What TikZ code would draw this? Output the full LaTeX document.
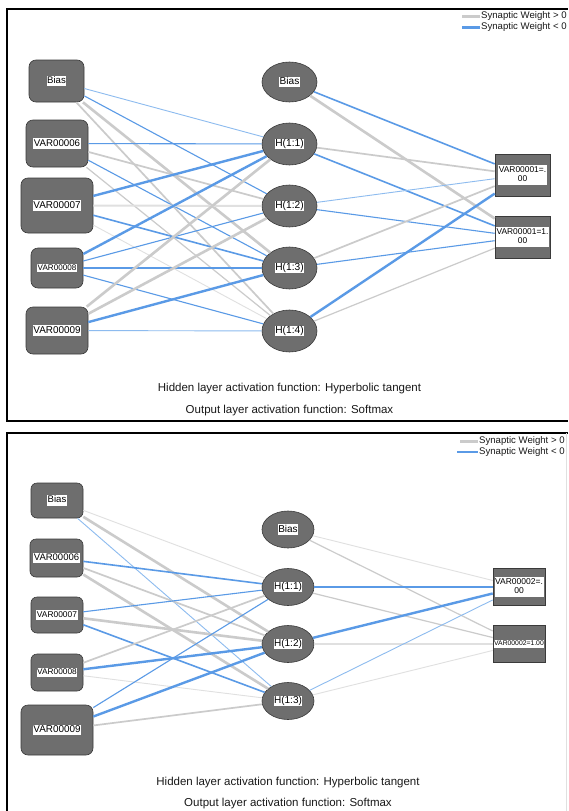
\documentclass[tikz,border=0pt]{standalone}
\usepackage{fontspec}
\setmainfont{Liberation Sans}
\usetikzlibrary{shapes.geometric}
\definecolor{nodefill}{HTML}{6E6E6E}
\definecolor{nodedraw}{HTML}{3A3A3A}
\definecolor{wpos}{HTML}{CBCBCB}
\definecolor{wposl}{HTML}{E0E0E0}
\definecolor{wneg}{HTML}{5A9AE6}
\definecolor{wnegl}{HTML}{8DBBEF}
\newcommand{\lab}[2]{{\fontsize{#1}{#1}\selectfont\setlength{\fboxsep}{0.6pt}\colorbox{white}{\vphantom{(}#2}}}
\newcommand{\labtwo}[4]{{\fontsize{#1}{#2}\selectfont\setlength{\fboxsep}{0.6pt}\colorbox{white}{\begin{tabular}{@{}c@{}}#3\\#4\end{tabular}}}}
\tikzset{
  inp/.style={draw=nodedraw, fill=nodefill, rectangle, rounded corners=6pt, line width=0.6pt, inner sep=0pt},
  hid/.style={draw=nodedraw, fill=nodefill, ellipse, line width=0.6pt, inner sep=0pt},
  outp/.style={draw=nodedraw, fill=nodefill, rectangle, line width=0.6pt, inner sep=0pt},
  g1/.style={draw=wposl, line width=0.9pt},
  g2/.style={draw=wpos, line width=1.2pt},
  g3/.style={draw=wpos, line width=1.7pt},
  g3l/.style={draw=wposl, line width=2pt},
  g4/.style={draw=wpos, line width=2.6pt},
  b1/.style={draw=wnegl, line width=0.9pt},
  b2/.style={draw=wneg, line width=1.1pt},
  b3/.style={draw=wneg, line width=1.6pt},
  b4/.style={draw=wneg, line width=2.4pt},
  capt/.style={font=\fontsize{11.5}{12}\selectfont, text=black!90, inner sep=0pt},
  legt/.style={font=\fontsize{9.6}{10}\selectfont, text=black!90, inner sep=0pt, anchor=west},
  frame/.style={draw=black, line width=1.5pt},
}
\begin{document}
\begin{tikzpicture}[x=1pt, y=-1pt]
\fill[white] (0,0) rectangle (568,811);
\useasboundingbox (0,0) rectangle (568,811);

% ---------- frames ----------
\draw[frame, line width=1.2pt] (7,9) -- (568,9);
\draw[frame, line width=2pt] (7,8.4) -- (7,421.6);
\draw[frame] (7,421) -- (568,421);
\draw[frame] (7,433) -- (568,433);
\draw[frame, line width=2pt] (7,432.4) -- (7,811);
\draw[draw=black!12, line width=1pt] (566.5,433) -- (566.5,811);

% ---------- legends ----------
\coordinate (tl1a) at (462,16.5); \coordinate (tl1b) at (480,16.5);
\coordinate (tl2a) at (462,27.5); \coordinate (tl2b) at (480,27.5);
\draw[wpos, line width=2.5pt] (tl1a) -- (tl1b);
\draw[wneg, line width=2.5pt] (tl2a) -- (tl2b);
\node[legt] (tlt1) at (481,16.5) {Synaptic Weight > 0};
\node[legt] (tlt2) at (481,27.5) {Synaptic Weight < 0};

\coordinate (bl1a) at (460,441.5); \coordinate (bl1b) at (478,441.5);
\coordinate (bl2a) at (457,452); \coordinate (bl2b) at (478,452);
\draw[wpos, line width=2.5pt] (bl1a) -- (bl1b);
\draw[wneg, line width=2.5pt] (bl2a) -- (bl2b);
\node[legt] (blt1) at (479,441.5) {Synaptic Weight > 0};
\node[legt] (blt2) at (479,452) {Synaptic Weight < 0};

% ---------- top panel nodes ----------
\node[inp, rounded corners=7pt, minimum width=55pt, minimum height=42pt] (ta0) at (56.5,81) {\lab{9.6}{Bias}};
\node[inp, rounded corners=7pt, minimum width=62pt, minimum height=47pt] (ta6) at (57,143.5) {\lab{9.7}{VAR00006}};
\node[inp, rounded corners=7pt, minimum width=72pt, minimum height=55pt] (ta7) at (57,205.5) {\lab{9.9}{VAR00007}};
\node[inp, rounded corners=7pt, minimum width=52pt, minimum height=40pt] (ta8) at (57,268) {\lab{8.1}{VAR00008}};
\node[inp, rounded corners=7pt, minimum width=62pt, minimum height=47pt] (ta9) at (57,330.5) {\lab{9.9}{VAR00009}};

\node[hid, minimum width=55pt, minimum height=40pt] (th0) at (289.5,82) {\lab{10.1}{Bias}};
\node[hid, minimum width=55pt, minimum height=42pt] (th1) at (289.5,144) {\lab{10.2}{H(1:1)}};
\node[hid, minimum width=55pt, minimum height=42pt] (th2) at (289.5,206) {\lab{10.2}{H(1:2)}};
\node[hid, minimum width=55pt, minimum height=42pt] (th3) at (289.5,268) {\lab{10.2}{H(1:3)}};
\node[hid, minimum width=55pt, minimum height=42pt] (th4) at (289.5,331) {\lab{10.2}{H(1:4)}};

\node[outp, minimum width=55pt, minimum height=42pt] (to1) at (522.5,175) {\labtwo{8.4}{9.2}{VAR00001=.}{00}};
\node[outp, minimum width=55pt, minimum height=42pt] (to2) at (522.5,237) {\labtwo{8.4}{9.2}{VAR00001=1.}{00}};

% top input -> hidden
\draw[b1] (ta0) -- (th1);
\draw[b2] (ta0) -- (th2);
\draw[g4] (ta0) -- (th3);
\draw[g3] (ta0) -- (th4);
\draw[b2] (ta6) -- (th1);
\draw[g3] (ta6) -- (th2);
\draw[b2] (ta6) -- (th3);
\draw[g2] (ta6) -- (th4);
\draw[b4] (ta7) -- (th1);
\draw[g3l] (ta7) -- (th2);
\draw[b3] (ta7) -- (th3);
\draw[g1] (ta7) -- (th4);
\draw[b4] (ta8) -- (th1);
\draw[b2] (ta8) -- (th2);
\draw[b2] (ta8) -- (th3);
\draw[b2] (ta8) -- (th4);
\draw[g4] (ta9) -- (th1);
\draw[g4] (ta9) -- (th2);
\draw[b4] (ta9) -- (th3);
\draw[b1] (ta9) -- (th4);
% top hidden -> output
\draw[b3] (th0) -- (to1);
\draw[g4] (th0) -- (to2);
\draw[g3] (th1) -- (to1);
\draw[b3] (th1) -- (to2);
\draw[b1] (th2) -- (to1);
\draw[b2] (th2) -- (to2);
\draw[g3] (th3) -- (to1);
\draw[b2] (th3) -- (to2);
\draw[b4] (th4) -- (to1);
\draw[g2] (th4) -- (to2);

\node[capt] (tc1) at (289.5,389) {Hidden layer activation function: Hyperbolic tangent};
\node[capt] (tc2) at (289.5,411) {Output layer activation function: Softmax};

% ---------- bottom panel nodes ----------
\node[inp, minimum width=52pt, minimum height=35pt] (ba0) at (57,500.5) {\lab{9.6}{Bias}};
\node[inp, minimum width=53pt, minimum height=38pt] (ba6) at (56.5,558) {\lab{9.5}{VAR00006}};
\node[inp, minimum width=52pt, minimum height=36pt] (ba7) at (57,615) {\lab{8.4}{VAR00007}};
\node[inp, minimum width=52pt, minimum height=37pt] (ba8) at (57,672.5) {\lab{8.3}{VAR00008}};
\node[inp, rounded corners=7pt, minimum width=72pt, minimum height=50pt] (ba9) at (57,730) {\lab{9.9}{VAR00009}};

\node[hid, minimum width=52pt, minimum height=37pt] (bh0) at (288,529.5) {\lab{10}{Bias}};
\node[hid, minimum width=52pt, minimum height=37pt] (bh1) at (288,587) {\lab{10}{H(1:1)}};
\node[hid, minimum width=52pt, minimum height=37pt] (bh2) at (288,644) {\lab{10}{H(1:2)}};
\node[hid, minimum width=52pt, minimum height=37pt] (bh3) at (288,701) {\lab{10}{H(1:3)}};

\node[outp, minimum width=52pt, minimum height=37pt] (bo1) at (519,587) {\labtwo{8.5}{9.2}{VAR00002=.}{00}};
\node[outp, minimum width=52pt, minimum height=37pt] (bo2) at (519,644) {\lab{6.8}{VAR00002=1.00}};

% bottom input -> hidden
\draw[g1] (ba0) -- (bh1);
\draw[g4] (ba0) -- (bh2);
\draw[b1] (ba0) -- (bh3);
\draw[b3] (ba6) -- (bh1);
\draw[g3] (ba6) -- (bh2);
\draw[g4] (ba6) -- (bh3);
\draw[b2] (ba7) -- (bh1);
\draw[g4] (ba7) -- (bh2);
\draw[b3] (ba7) -- (bh3);
\draw[g3] (ba8) -- (bh1);
\draw[b4] (ba8) -- (bh2);
\draw[g1] (ba8) -- (bh3);
\draw[b2] (ba9) -- (bh1);
\draw[b4] (ba9) -- (bh2);
\draw[g3] (ba9) -- (bh3);
% bottom hidden -> output
\draw[g1] (bh0) -- (bo1);
\draw[g2] (bh0) -- (bo2);
\draw[b2] (bh1) -- (bo1);
\draw[g2] (bh1) -- (bo2);
\draw[b4] (bh2) -- (bo1);
\draw[g3l] (bh2) -- (bo2);
\draw[b1] (bh3) -- (bo1);
\draw[g1] (bh3) -- (bo2);

\node[capt] (bc1) at (288,783) {Hidden layer activation function: Hyperbolic tangent};
\node[capt] (bc2) at (288,804) {Output layer activation function: Softmax};
\end{tikzpicture}
\end{document}
